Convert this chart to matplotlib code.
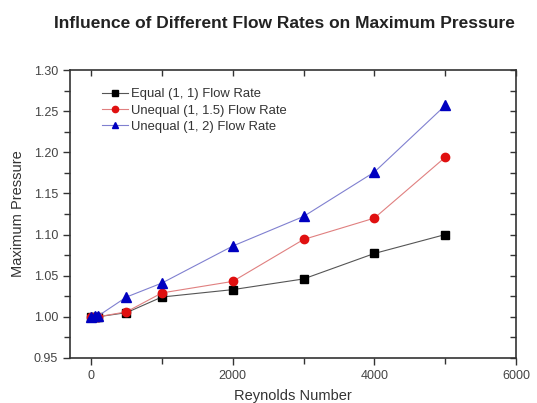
import numpy as np
import matplotlib.pyplot as plt
from matplotlib.ticker import MultipleLocator

plt.rcParams['font.family'] = ['Liberation Sans', 'DejaVu Sans']

reynolds = [0, 50, 100, 500, 1000, 2000, 3000, 4000, 5000]
equal_11 = [1.000, 1.000, 1.000, 1.005, 1.024, 1.033, 1.046, 1.077, 1.100]
unequal_115 = [1.000, 1.000, 1.000, 1.006, 1.029, 1.043, 1.094, 1.120, 1.194]
unequal_12 = [1.000, 1.001, 1.001, 1.024, 1.041, 1.086, 1.122, 1.176, 1.257]
labels = ['Equal (1, 1) Flow Rate', 'Unequal (1, 1.5) Flow Rate', 'Unequal (1, 2) Flow Rate']

fig = plt.figure(figsize=(5.37, 4.03), dpi=100)
ax = fig.add_axes([0.130, 0.112, 0.831, 0.714])

ax.plot(reynolds, equal_11, color='#555555', lw=0.8, marker='s', ms=5.5,
        mfc='black', mec='black', label=labels[0])
ax.plot(reynolds, unequal_115, color='#e08080', lw=0.8, marker='o', ms=6,
        mfc='#e01010', mec='#e01010', label=labels[1])
ax.plot(reynolds, unequal_12, color='#8080d0', lw=0.8, marker='^', ms=6.5,
        mfc='#0000c0', mec='#0000c0', label=labels[2])

ax.set_xlim(-300, 6000)
ax.set_ylim(0.95, 1.30)
ax.xaxis.set_major_locator(MultipleLocator(2000))
ax.xaxis.set_minor_locator(MultipleLocator(1000))
ax.yaxis.set_major_locator(MultipleLocator(0.05))
ax.yaxis.set_minor_locator(MultipleLocator(0.025))
ax.yaxis.set_major_formatter(plt.FormatStrFormatter('%.2f'))

for s in ax.spines.values():
    s.set_linewidth(1.2)
    s.set_color('#333333')

ax.tick_params(which='both', direction='out', top=False, right=False,
               colors='#333333', labelcolor='#444444', labelsize=9, width=1)
ax.tick_params(which='major', length=5)
ax.tick_params(which='minor', length=4)

# inward ticks on the mirrored top and right spines
sec_x = ax.secondary_xaxis('top')
sec_x.xaxis.set_major_locator(MultipleLocator(1000))
sec_x.tick_params(direction='in', length=4, width=1, labeltop=False, colors='#333333')
sec_x.spines['top'].set_visible(False)
sec_y = ax.secondary_yaxis('right')
sec_y.yaxis.set_major_locator(MultipleLocator(0.025))
sec_y.tick_params(direction='in', length=4, width=1, labelright=False, colors='#333333')
sec_y.spines['right'].set_visible(False)

ax.set_xlabel('Reynolds Number', fontsize=10.5, color='#333333', labelpad=5)
ax.set_ylabel('Maximum Pressure', fontsize=10.5, color='#333333', labelpad=6)
fig.suptitle('Influence of Different Flow Rates on Maximum Pressure',
             x=0.529, y=0.96, fontsize=12.5, fontweight='bold', color='#222222')

ax.legend(loc='upper left', bbox_to_anchor=(0.06, 0.955), frameon=False,
          fontsize=9.4, handlelength=2.0, handletextpad=0.25, labelspacing=0.32,
          markerscale=0.75, labelcolor='#333333', borderaxespad=0)

fig.savefig('out.png', dpi=100)
